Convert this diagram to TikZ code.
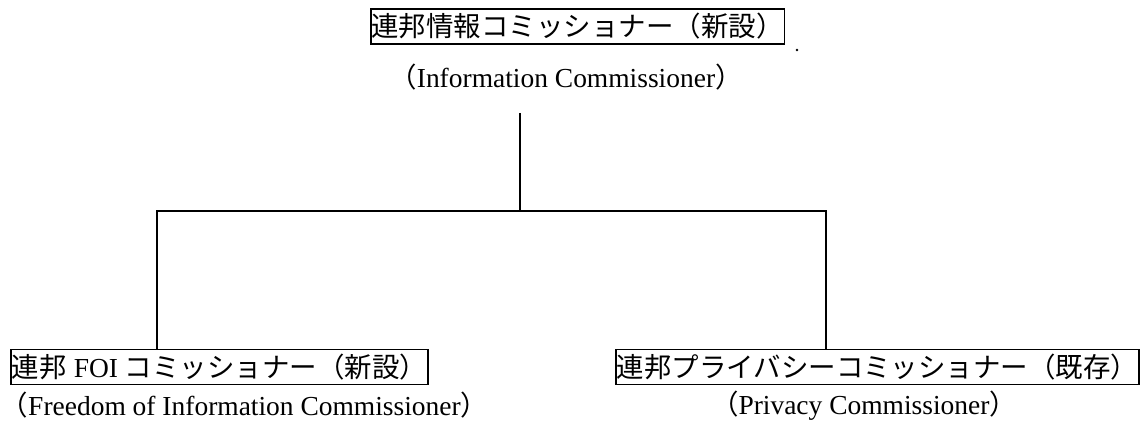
\documentclass[tikz,border=0pt]{standalone}
\usepackage{fontspec}
\setmainfont{Liberation Serif}
\newfontfamily\jp{Noto Sans CJK JP}
\begin{document}
\begin{tikzpicture}[x=0.75pt,y=-0.75pt,
  every node/.style={font=\fontsize{20.6}{24}\selectfont},
  titlebox/.style={draw=black,line width=1.2pt,inner xsep=0.6pt,inner ysep=0pt,minimum height=35*0.75pt,anchor=center},
  caption/.style={inner sep=0pt,anchor=center},
  link/.style={draw=black,line width=1.5pt}]
\useasboundingbox (0,0) rectangle (1141,427);
% top
\node[titlebox] (top) at (577.5,26.5) {\jp 連邦情報コミッショナー（新設）};
\fill (797,50) circle[radius=1.4];
\node[caption] (topcap) at (566,77) {{\jp（}Information Commissioner{\jp）}};
% bottom boxes
\node[titlebox] (lbox) at (219.5,367) {{\jp 連邦} FOI {\jp コミッショナー（新設）}};
\node[caption,anchor=west] (lcap) at (0.5,405.5) {{\jp（}Freedom of Information Commissioner{\jp）}};
\node[titlebox] (rbox) at (877.5,367) {\jp 連邦プライバシーコミッショナー（既存）};
\node[caption] (rcap) at (864,405.5) {{\jp（}Privacy Commissioner{\jp）}};
% connectors
\coordinate (t) at (520,113);
\coordinate (j) at (520,211);
\coordinate (jl) at (157,211);
\coordinate (jr) at (826,211);
\draw[link] (t) -- (j);
\draw[link,line cap=rect] (jl) -- (jr);
\draw[link] (jl) -- (jl |- lbox.north);
\draw[link] (jr) -- (jr |- rbox.north);
\end{tikzpicture}
\end{document}
